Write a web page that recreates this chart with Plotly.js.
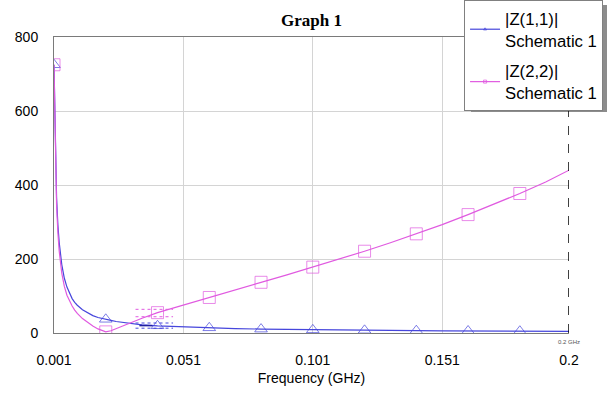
<!DOCTYPE html>
<html>
<head>
<meta charset="utf-8">
<script src="https://cdn.plot.ly/plotly-3.0.1.min.js"></script>
<style>html,body{margin:0;padding:0;background:#fff;}#chart{width:609px;height:395px;}</style>
</head>
<body>
<div id="chart"></div>
<script>
// Frequency samples (GHz)
var freq = [0.001,0.0015,0.002,0.0025,0.003,0.004,0.005,0.006,0.007,0.008,0.009,0.010,0.012,0.014,0.016,0.018,0.020,0.021,0.023,0.025,0.030,0.035,0.041,0.051,0.061,0.071,0.081,0.091,0.101,0.111,0.121,0.131,0.141,0.151,0.161,0.171,0.181,0.191,0.200];
// |Z(1,1)| Schematic 1
var z11 = [725,485,365,292,245,185,148,124,106,93,83,75,63,54,47,42,38,37,34,31,26,22,19.5,16.5,14,12,10.5,9.5,8.5,7.8,7.2,6.7,6.2,5.8,5.4,5.1,4.8,4.5,4.3];
// |Z(2,2)| Schematic 1
var z22 = [725,470,345,272,222,162,126,102,86,73,62,53,39,28,19,11,5,3,6,12,27,40,55,76,96,116,137,157,178,199,221,244,268,293,320,348,377,408,440];
// Marker frequencies (every 0.02 GHz from 0.001)
var markerFreq = [0.001,0.021,0.041,0.061,0.081,0.101,0.121,0.141,0.161,0.181];
var names = ['|Z(1,1)|<br>Schematic 1','|Z(2,2)|<br>Schematic 1'];
var yTicks = [0,200,400,600,800];
var xTicks = [0.001,0.051,0.101,0.151,0.2];
var xTickText = ['0.001','0.051','0.101','0.151','0.2'];

function sizes(sz){
  return freq.map(function(f){
    return markerFreq.some(function(m){return Math.abs(m-f)<1e-9;}) ? sz : 0;
  });
}

var traces = [
  {x: freq, y: z11, name: names[0], legendgroup: 'a', type: 'scatter', mode: 'lines+markers',
   line: {color: '#4646dc', width: 1.2},
   marker: {symbol: 'triangle-up-open', size: sizes(11), color: '#4646dc', line: {width: 1, color: '#4646dc'}}},
  {x: freq, y: z22, name: names[1], legendgroup: 'b', type: 'scatter', mode: 'lines+markers',
   line: {color: '#e05ae0', width: 1.2},
   marker: {symbol: 'square-open', size: sizes(12), color: '#e05ae0', line: {width: 1, color: '#e05ae0'}}}
];

var layout = {
  width: 609, height: 395,
  margin: {l: 54, r: 40, t: 37, b: 62, pad: 0, autoexpand: false},
  paper_bgcolor: '#ffffff', plot_bgcolor: '#ffffff',
  font: {family: 'Liberation Sans, Arial, sans-serif', size: 14, color: '#000'},
  title: {text: '<b>Graph 1</b>', font: {family: 'Liberation Serif, Times New Roman, serif', size: 17, color: '#000'},
          x: 0.5, xref: 'paper', xanchor: 'center', y: 0.95, yref: 'container', yanchor: 'middle'},
  xaxis: {range: [0.001, 0.2], tickvals: xTicks, ticktext: xTickText, showgrid: true, gridcolor: '#d4d4d4', gridwidth: 1,
          zeroline: false, showline: true, linecolor: '#7a7a7a', linewidth: 1, mirror: true, ticks: '',
          ticklabelstandoff: 14, tickfont: {size: 14},
          title: {text: 'Frequency (GHz)', font: {size: 14}, standoff: 6}},
  yaxis: {range: [0, 800], tickvals: yTicks, showgrid: true, gridcolor: '#d4d4d4', gridwidth: 1,
          zeroline: false, showline: true, linecolor: '#7a7a7a', linewidth: 1, ticks: '',
          ticklabelstandoff: 12, tickfont: {size: 14}},
  showlegend: true,
  legend: {xref: 'container', yref: 'container', x: 0.762, xanchor: 'left', y: 1.0, yanchor: 'top',
           bgcolor: '#ffffff', bordercolor: '#808080', borderwidth: 1,
           font: {size: 16.7, color: '#000'}, tracegroupgap: 6, itemsizing: 'trace'},
  shapes: [
    {type: 'rect', xref: 'paper', yref: 'paper', x0: 0.8097, x1: 1.0738, y0: 0.7466, y1: 1.108, fillcolor: '#8c8c8c', line: {width: 0}, layer: 'above'},
    {type: 'line', xref: 'x', yref: 'paper', x0: 0.2, x1: 0.2, y0: 0, y1: 1, line: {color: '#000', width: 1.5, dash: 'dash'}, layer: 'above'},
    {type: 'line', xref: 'x', yref: 'y', x0: 0.0325, x1: 0.047, y0: 64, y1: 64, line: {color: '#e05ae0', width: 1, dash: 'dot'}},
    {type: 'line', xref: 'x', yref: 'y', x0: 0.0325, x1: 0.047, y0: 44, y1: 44, line: {color: '#e05ae0', width: 1, dash: 'dot'}},
    {type: 'line', xref: 'x', yref: 'y', x0: 0.0325, x1: 0.047, y0: 27, y1: 27, line: {color: '#4646dc', width: 1, dash: 'dot'}},
    {type: 'line', xref: 'x', yref: 'y', x0: 0.0325, x1: 0.047, y0: 13, y1: 13, line: {color: '#4646dc', width: 1, dash: 'dot'}},
    {type: 'line', xref: 'x', yref: 'y', x0: 0.034, x1: 0.039, y0: 20, y1: 20, line: {color: '#2020a0', width: 1.5}}
  ],
  annotations: [
    {text: '0.2 GHz', xref: 'x', yref: 'paper', x: 0.2, y: 0, xanchor: 'center', yanchor: 'top', yshift: -4, showarrow: false,
     font: {size: 6, color: '#555'}}
  ]
};

Plotly.newPlot('chart', traces, layout, {displayModeBar: false, staticPlot: true});
</script>
</body>
</html>
